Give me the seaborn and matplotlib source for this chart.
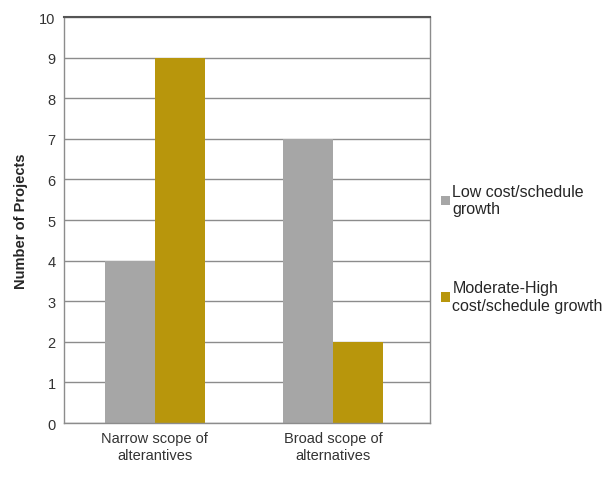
import numpy as np
import pandas as pd
import seaborn as sns
import matplotlib.pyplot as plt

categories = ["Narrow scope of\nalterantives", "Broad scope of\nalternatives"]
series = ["Low cost/schedule\ngrowth", "Moderate-High\ncost/schedule growth"]
low_growth = [4, 7]
high_growth = [9, 2]

df = pd.DataFrame({
    "scope": categories * 2,
    "group": [series[0]] * 2 + [series[1]] * 2,
    "projects": low_growth + high_growth,
})

sns.set_style("white")
plt.rcParams['font.family'] = ['Liberation Sans', 'DejaVu Sans']

fig = plt.figure(figsize=(6.1, 4.81), dpi=100)
ax = fig.add_axes([0.105, 0.1185, 0.6, 0.844])

sns.barplot(data=df, x="scope", y="projects", hue="group",
            palette=["#A6A6A6", "#B8960C"], width=0.56, saturation=1,
            linewidth=0, ax=ax)

ax.set_ylim(0, 10)
ax.set_xlim(-0.51, 1.545)
ax.set_yticks(range(0, 11))
ax.yaxis.grid(True, color="#8C8C8C", linewidth=1)
ax.set_axisbelow(True)
for s in ax.spines.values():
    s.set_color("#8C8C8C")
    s.set_linewidth(1)
ax.spines["top"].set_color("#555555")
ax.spines["top"].set_linewidth(1.5)
ax.tick_params(axis="both", labelsize=10.5, colors="#333333", length=0, pad=6)
ax.set_xlabel("")
ax.set_ylabel("Number of Projects", fontsize=10.5, fontweight="bold", labelpad=8)

ax.legend(loc="center left", bbox_to_anchor=(1.0, 0.43), frameon=False,
          fontsize=11.5, labelspacing=4.0, handlelength=0.55, handleheight=0.55,
          handletextpad=0.15, borderaxespad=0.3)

fig.savefig("out.png", dpi=100)
